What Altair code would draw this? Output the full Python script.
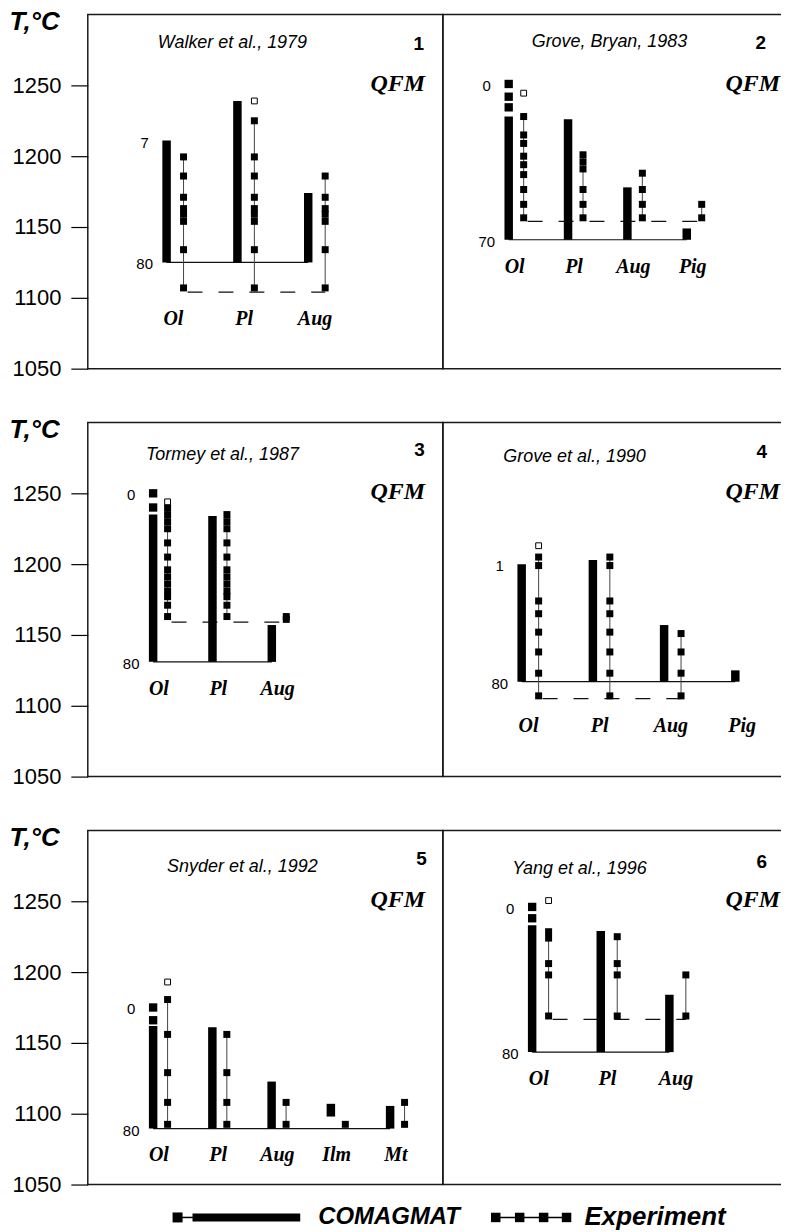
import altair as alt
import pandas as pd

# ---------------- shared axis values ----------------
T_TICKS = [1050, 1100, 1150, 1200, 1250]
T_DOMAIN = [1050, 1300]

# ---------------- panel 1 ----------------
P1_REF = "Walker et al., 1979"
P1_NUM = "1"
P1_MIN = ["Ol", "Pl", "Aug"]
P1_CALC_TOP = [1211, 1239, 1174]
P1_CALC_BOT = [1125, 1125, 1125]
P1_CALC_PTS = [[], [], []]
P1_EXP = [
    [1199.5, 1186, 1171, 1163, 1159, 1154, 1134, 1107],
    [1225, 1199.5, 1186, 1171, 1163, 1159, 1154, 1134, 1107],
    [1186, 1171, 1163, 1159, 1154, 1134, 1107],
]
P1_OPEN = [None, 1239, None]
P1_BASE = 1125
P1_DASH = 1104
P1_PCT = ["7", "80"]

# ---------------- panel 2 ----------------
P2_REF = "Grove, Bryan, 1983"
P2_NUM = "2"
P2_MIN = ["Ol", "Pl", "Aug", "Pig"]
P2_CALC_TOP = [1228, 1226, 1178, 1149]
P2_CALC_BOT = [1141, 1141, 1141, 1141]
P2_CALC_PTS = [[1251, 1242, 1234.5], [], [], []]
P2_EXP = [
    [1228, 1215, 1209, 1200, 1194, 1187, 1176.5, 1166, 1156.5],
    [1201, 1196, 1191, 1176.5, 1166, 1156.5],
    [1188, 1176.5, 1166, 1156.5],
    [1166, 1156.5],
]
P2_OPEN = [1244.5, None, None, None]
P2_BASE = 1141
P2_DASH = 1154
P2_PCT = ["0", "70"]

# ---------------- panel 3 ----------------
P3_REF = "Tormey et al., 1987"
P3_NUM = "3"
P3_MIN = ["Ol", "Pl", "Aug"]
P3_CALC_TOP = [1235, 1234, 1157]
P3_CALC_BOT = [1131, 1131, 1131]
P3_CALC_PTS = [[1250, 1240], [], []]
P3_EXP = [
    [1240, 1235, 1230, 1225, 1215, 1205, 1196, 1191, 1186, 1181, 1177, 1171, 1163],
    [1235, 1230, 1225, 1215, 1205, 1196, 1191, 1186, 1181, 1177, 1171, 1163],
    [1163, 1161],
]
P3_OPEN = [1244, None, None]
P3_BASE = 1131
P3_DASH = 1159
P3_PCT = ["0", "80"]

# ---------------- panel 4 ----------------
P4_REF = "Grove et al., 1990"
P4_NUM = "4"
P4_MIN = ["Ol", "Pl", "Aug", "Pig"]
P4_CALC_TOP = [1200, 1203, 1157, 1125]
P4_CALC_BOT = [1117, 1117, 1117, 1117]
P4_CALC_PTS = [[], [], [], []]
P4_EXP = [
    [1205, 1199, 1174, 1165, 1152, 1138, 1123, 1107],
    [1205, 1199, 1174, 1165, 1152, 1138, 1123, 1107],
    [1151, 1138, 1123, 1107],
    [],
]
P4_OPEN = [1213, None, None, None]
P4_BASE = 1117
P4_DASH = 1105
P4_PCT = ["1", "80"]

# ---------------- panel 5 ----------------
P5_REF = "Snyder et al., 1992"
P5_NUM = "5"
P5_MIN = ["Ol", "Pl", "Aug", "Ilm", "Mt"]
P5_CALC_TOP = [1162, 1161, 1122.7, 1107, 1105.5]
P5_CALC_BOT = [1089.5, 1089.5, 1089.5, 1098, 1089.5]
P5_CALC_PTS = [[1175, 1166], [], [], [], []]
P5_EXP = [
    [1180.6, 1156, 1129, 1108, 1092.5],
    [1156, 1129, 1108, 1092.5],
    [1108, 1092.5],
    [1092.5],
    [1108, 1092.5],
]
P5_OPEN = [1193, None, None, None, None]
P5_BASE = 1089.5
P5_DASH = None
P5_PCT = ["0", "80"]

# ---------------- panel 6 ----------------
P6_REF = "Yang et al., 1996"
P6_NUM = "6"
P6_MIN = ["Ol", "Pl", "Aug"]
P6_CALC_TOP = [1233, 1229, 1184]
P6_CALC_BOT = [1143.5, 1143.5, 1143.5]
P6_CALC_PTS = [[1246, 1238], [], []]
P6_EXP = [
    [1228.5, 1224, 1206, 1198, 1169],
    [1225, 1206, 1198, 1169],
    [1198, 1169],
]
P6_OPEN = [1250.5, None, None]
P6_BASE = 1143.5
P6_DASH = 1166.6
P6_PCT = ["0", "80"]

LEGEND_LABELS = ["COMAGMAT", "Experiment"]

# ---------------- layout (pixels) ----------------
H = 355
LAYOUT = {
    1: dict(W=356, f=79, s=71, e=17, tx=145, ty=29, nx=337, ny=30),
    2: dict(W=346, f=66, s=59.5, e=15, tx=167, ty=28, nx=324, ny=29),
    3: dict(W=356, f=65.5, s=59.5, e=14.5, tx=135, ty=33, nx=338, ny=28),
    4: dict(W=346, f=79, s=71.4, e=17, tx=132, ty=35, nx=325, ny=30),
    5: dict(W=356, f=65.5, s=59.4, e=14.5, tx=155, ty=37, nx=340, ny=29),
    6: dict(W=346, f=89.5, s=68.8, e=16.5, tx=137, ty=38.5, nx=325, ny=32),
}
LEG_Y = 388

SANS = "Liberation Sans"
SERIF = "Liberation Serif"


def panel(pid, ref, num, minerals, calc_top, calc_bot, calc_pts, exp, open_,
          base, dash, pct, left, legend=None):
    lay = LAYOUT[pid]
    n = len(minerals)
    off = lay["e"] / lay["s"]
    lo = -lay["f"] / lay["s"]
    hi = (lay["W"] - lay["f"]) / lay["s"]
    xs = alt.Scale(domain=[lo, hi], nice=False, zero=False)
    ys = alt.Scale(domain=T_DOMAIN, nice=False, zero=False)
    if left:
        yax = alt.Axis(values=T_TICKS, title="T,°C", titleAngle=0, titleX=-79, titleY=7,
                       titleAlign="left", titleBaseline="middle", titleFont=SANS,
                       titleFontSize=26, titleFontStyle="italic", titleFontWeight="bold",
                       titleColor="#000", labelFont=SANS, labelFontSize=22, labelColor="#000",
                       tickSize=17, tickColor="#000", tickWidth=1.2, labelPadding=10,
                       domain=False, grid=False, minExtent=79, maxExtent=79, format="d")
    else:
        yax = None

    def X(f="x"):
        return alt.X(f"{f}:Q", scale=xs, axis=None)

    def Y(f="y"):
        return alt.Y(f"{f}:Q", scale=ys, axis=yax)

    layers = []
    # solid 80 % line
    bdf = pd.DataFrame({"x": [0], "x2": [n - 1], "y": [base]})
    layers.append(alt.Chart(bdf).mark_rule(color="#111", strokeWidth=1.2).encode(
        x=X(), x2=alt.X2("x2:Q"), y=Y()))
    # dashed experimental lower line
    idx = [i for i in range(n) if exp[i]]
    if dash is not None and idx:
        ddf = pd.DataFrame({"x": [idx[0] + off], "x2": [idx[-1] + off], "y": [dash]})
        layers.append(alt.Chart(ddf).mark_rule(color="#111", strokeWidth=1.2,
                                               strokeDash=[15, 16], strokeDashOffset=-4).encode(
            x=X(), x2=alt.X2("x2:Q"), y=Y()))
    # COMAGMAT bars
    cdf = pd.DataFrame({"x": list(range(n)), "y": calc_top, "y2": calc_bot})
    layers.append(alt.Chart(cdf).mark_rule(color="#000", strokeWidth=8.5, strokeCap="butt").encode(
        x=X(), y=Y(), y2=alt.Y2("y2:Q")))
    # COMAGMAT squares
    prow = [(i, v) for i in range(n) for v in calc_pts[i]]
    if prow:
        pdf = pd.DataFrame(prow, columns=["x", "y"])
        layers.append(alt.Chart(pdf).mark_square(color="#000", opacity=1, size=70).encode(
            x=X(), y=Y()))
    # experiment lines
    lrow = [(i + off, min(exp[i]), max(exp[i])) for i in range(n) if len(exp[i]) > 1]
    if lrow:
        ldf = pd.DataFrame(lrow, columns=["x", "y", "y2"])
        layers.append(alt.Chart(ldf).mark_rule(color="#444", strokeWidth=1).encode(
            x=X(), y=Y(), y2=alt.Y2("y2:Q")))
    # experiment squares
    erow = [(i + off, v) for i in range(n) for v in exp[i]]
    if erow:
        edf = pd.DataFrame(erow, columns=["x", "y"])
        layers.append(alt.Chart(edf).mark_square(color="#000", opacity=1, size=49).encode(
            x=X(), y=Y()))
    # open squares
    orow = [(i + off, v) for i in range(n) if open_[i] is not None for v in [open_[i]]]
    if orow:
        odf = pd.DataFrame(orow, columns=["x", "y"])
        layers.append(alt.Chart(odf).mark_square(filled=True, fill="#fff", stroke="#000",
                                                 strokeWidth=1, opacity=1, size=34).encode(
            x=X(), y=Y()))
    # mineral labels
    low = min(base, dash) if dash is not None else base
    mdf = pd.DataFrame({"x": [i + 0.4 * off for i in range(n)], "y": [low - 19] * n,
                        "lab": minerals})
    layers.append(alt.Chart(mdf).mark_text(font=SERIF, fontSize=20, fontStyle="italic",
                                           fontWeight="bold", color="#000", baseline="middle",
                                           align="center").encode(
        x=X(), y=Y(), text="lab:N"))
    # percent labels
    top0 = max([calc_top[0]] + calc_pts[0])
    qdf = pd.DataFrame({"x": [0, 0], "y": [top0, base], "lab": pct})
    layers.append(alt.Chart(qdf).mark_text(font=SANS, fontSize=15, color="#000", dx=-22, dy=2,
                                           baseline="middle", align="center").encode(
        x=X(), y=Y(), text="lab:N"))
    # reference title, panel number, QFM
    layers.append(alt.Chart(pd.DataFrame({"t": [ref]})).mark_text(
        font=SANS, fontSize=18, fontStyle="italic", color="#000", baseline="middle",
        align="center").encode(x=alt.value(lay["tx"]), y=alt.value(lay["ty"]), text="t:N"))
    layers.append(alt.Chart(pd.DataFrame({"t": [num]})).mark_text(
        font=SANS, fontSize=19, fontWeight="bold", color="#000", baseline="middle",
        align="right").encode(x=alt.value(lay["nx"]), y=alt.value(lay["ny"]), text="t:N"))
    layers.append(alt.Chart(pd.DataFrame({"t": ["QFM"]})).mark_text(
        font=SERIF, fontSize=24, fontWeight="bold", fontStyle="italic", color="#000",
        baseline="middle", align="right").encode(x=alt.value(338), y=alt.value(70), text="t:N"))

    if legend == "calc":
        one = pd.DataFrame({"a": [0]})
        layers.append(alt.Chart(one).mark_rule(color="#000", strokeWidth=1.5).encode(
            x=alt.value(88), x2=alt.value(110), y=alt.value(LEG_Y)))
        layers.append(alt.Chart(one).mark_square(color="#000", opacity=1, size=100).encode(
            x=alt.value(90), y=alt.value(LEG_Y)))
        layers.append(alt.Chart(one).mark_rule(color="#000", strokeWidth=8, strokeCap="butt").encode(
            x=alt.value(105), x2=alt.value(213), y=alt.value(LEG_Y)))
        layers.append(alt.Chart(pd.DataFrame({"t": [LEGEND_LABELS[0]]})).mark_text(
            font=SANS, fontSize=24, fontWeight="bold", fontStyle="italic", color="#000",
            baseline="middle", align="left").encode(x=alt.value(231), y=alt.value(LEG_Y), text="t:N"))
    if legend == "exp":
        one = pd.DataFrame({"a": [0]})
        layers.append(alt.Chart(one).mark_rule(color="#000", strokeWidth=1.5).encode(
            x=alt.value(53), x2=alt.value(124), y=alt.value(LEG_Y)))
        sq = pd.DataFrame({"px": [53, 77, 101, 124]})
        layers.append(alt.Chart(sq).mark_square(color="#000", opacity=1, size=90).encode(
            x=alt.X("px:Q", scale=None), y=alt.value(LEG_Y)))
        layers.append(alt.Chart(pd.DataFrame({"t": [LEGEND_LABELS[1]]})).mark_text(
            font=SANS, fontSize=26, fontWeight="bold", fontStyle="italic", color="#000",
            baseline="middle", align="left").encode(x=alt.value(142), y=alt.value(LEG_Y), text="t:N"))

    return alt.layer(*layers).properties(width=lay["W"], height=H)


p1 = panel(1, P1_REF, P1_NUM, P1_MIN, P1_CALC_TOP, P1_CALC_BOT, P1_CALC_PTS, P1_EXP, P1_OPEN,
           P1_BASE, P1_DASH, P1_PCT, True)
p2 = panel(2, P2_REF, P2_NUM, P2_MIN, P2_CALC_TOP, P2_CALC_BOT, P2_CALC_PTS, P2_EXP, P2_OPEN,
           P2_BASE, P2_DASH, P2_PCT, False)
p3 = panel(3, P3_REF, P3_NUM, P3_MIN, P3_CALC_TOP, P3_CALC_BOT, P3_CALC_PTS, P3_EXP, P3_OPEN,
           P3_BASE, P3_DASH, P3_PCT, True)
p4 = panel(4, P4_REF, P4_NUM, P4_MIN, P4_CALC_TOP, P4_CALC_BOT, P4_CALC_PTS, P4_EXP, P4_OPEN,
           P4_BASE, P4_DASH, P4_PCT, False)
p5 = panel(5, P5_REF, P5_NUM, P5_MIN, P5_CALC_TOP, P5_CALC_BOT, P5_CALC_PTS, P5_EXP, P5_OPEN,
           P5_BASE, P5_DASH, P5_PCT, True, legend="calc")
p6 = panel(6, P6_REF, P6_NUM, P6_MIN, P6_CALC_TOP, P6_CALC_BOT, P6_CALC_PTS, P6_EXP, P6_OPEN,
           P6_BASE, P6_DASH, P6_PCT, False, legend="exp")

rows = [alt.hconcat(a, b, spacing=0, bounds="flush") for a, b in [(p1, p2), (p3, p4), (p5, p6)]]
chart = alt.vconcat(*rows, spacing=35).properties(
    padding={"left": 0, "top": -2, "right": -8, "bottom": -2}, background="#ffffff"
).configure_view(stroke="#1a1a1a", strokeWidth=1.5)

chart.save("out.html", embed_options={"renderer": "svg", "actions": False})
